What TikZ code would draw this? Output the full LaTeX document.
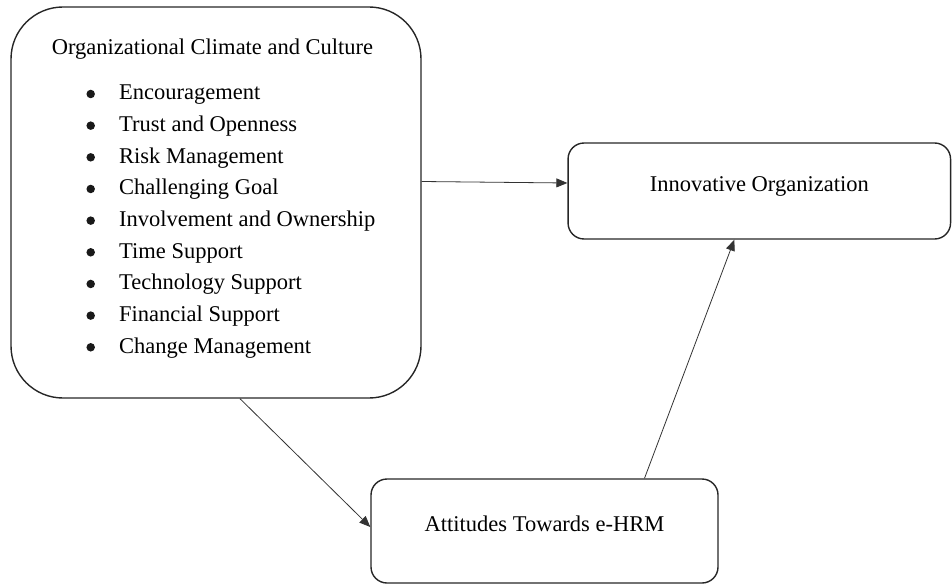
\documentclass[tikz,border=0pt]{standalone}
\usepackage{fontspec}
\setmainfont{Liberation Serif}
\usetikzlibrary{arrows.meta,positioning}

\begin{document}
\begin{tikzpicture}[x=1pt, y=-1pt, font=\fontsize{22.5}{27}\selectfont,
  box/.style={draw=black!85, line width=1.4pt, rounded corners=16pt, inner sep=0pt, text height=8pt, text depth=8pt},
  txt/.style={inner sep=0pt},
  dot/.style={circle, fill=black!90, inner sep=0pt, minimum size=8.5pt},
  arr/.style={-{Triangle[length=11pt, width=9pt]}, line width=0.8pt, black!80}]
\useasboundingbox (0,0) rectangle (952,583);
% left block: climate and culture factors
\node[box, rounded corners=52pt, minimum width=410pt, minimum height=391pt] (occ) at (216,202.5) {};
\node[txt, anchor=base] (occtitle) at (212.5,55) {Organizational Climate and Culture};
\foreach \lbl [count=\i from 0] in {Encouragement, Trust and Openness, Risk Management,
    Challenging Goal, Involvement and Ownership, Time Support, Technology Support,
    Financial Support, Change Management} {
  \node[dot] (bul\i) at (90.7,94+31.66*\i) {};
  \node[txt, anchor=base west] (fac\i) at (119,100+31.66*\i) {\lbl};
}
% outcome and mediator
\node[box, minimum width=382.5pt, minimum height=96pt] (inno) at (759.3,191) {Innovative Organization};
\node[box, minimum width=347pt, minimum height=104pt] (ehrm) at (544.5,531) {Attitudes Towards e-HRM};
\draw[arr] ([yshift=21pt]occ.east) -- ([yshift=8pt]inno.west);
\draw[arr] ([xshift=24pt]occ.south) -- ([yshift=4pt]ehrm.west);
\draw[arr] ([xshift=100pt]ehrm.north) -- ([xshift=-25pt]inno.south);
\end{tikzpicture}
\end{document}
